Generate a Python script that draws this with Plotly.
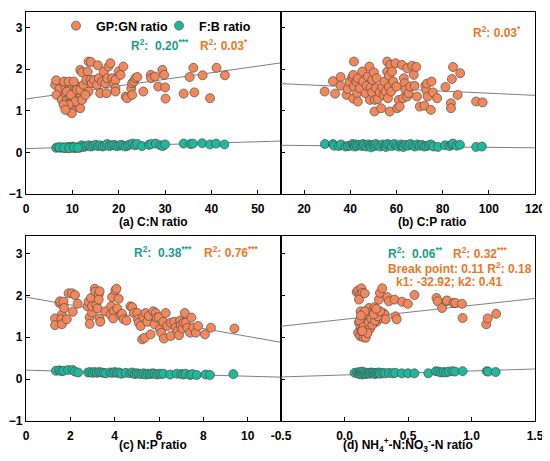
import plotly.graph_objects as go

# ---------------- data ----------------
# (a) C:N ratio
cn_gp_x = [6.3, 6.5, 7.2, 6.6, 7.7, 8.5, 8.5, 8.8, 8.8, 9.2, 9.4, 9.5, 9.5, 9.9, 9.9, 10.1, 10.3, 10.6, 10.8, 11.0,
           11.1, 11.3, 11.6, 11.7, 8.2, 9.2, 10.3, 8.8, 9.7, 10.6, 9.2, 9.9, 8.1, 8.5, 11.0, 11.7, 12.1,
           11.7, 12.1, 13.5, 14.0, 13.3, 12.4, 13.0, 13.9, 14.2, 13.5, 12.8, 14.7, 15.3, 15.7, 16.0, 15.5, 16.4,
           16.8, 17.1, 17.5, 17.8, 18.2, 18.6, 18.9, 19.3, 19.3, 19.3, 17.4, 20.0, 20.4, 21.0, 21.5, 21.8, 22.7,
           22.9, 23.3, 23.6, 24.0, 22.9, 25.3, 26.9, 27.0, 27.8, 28.5, 29.4, 29.8, 30.0, 30.1, 34.0, 35.3, 36.1,
           36.3, 38.1, 39.7, 41.1, 42.9]
cn_gp_y = [1.62, 1.73, 1.52, 1.38, 1.26, 1.42, 1.58, 1.26, 1.10, 1.50, 1.34, 1.18, 0.98, 1.54, 1.42, 1.26, 1.06, 1.50, 1.34, 1.18,
           1.58, 1.26, 1.42, 1.06, 1.70, 1.70, 1.70, 1.46, 1.38, 1.22, 1.14, 0.94, 1.14, 1.02, 1.50, 1.50, 1.26,
           1.98, 1.92, 2.18, 2.17, 1.94, 1.62, 1.74, 1.74, 1.66, 1.46, 1.38, 1.74, 1.62, 1.78, 1.42, 2.09, 1.70,
           1.94, 1.66, 1.78, 2.06, 2.14, 1.78, 1.66, 1.74, 1.54, 1.46, 1.42, 1.94, 1.86, 2.06, 1.34, 1.30, 1.54,
           1.66, 1.70, 1.78, 1.81, 1.38, 1.46, 1.86, 1.78, 1.82, 1.58, 1.98, 1.86, 1.56, 1.29, 1.41, 1.81, 2.03,
           1.44, 1.85, 1.30, 2.03, 1.85]
cn_fb_x = [6.5, 7, 7.5, 8, 8.5, 9, 9, 9.5, 10, 10, 10.5, 11, 11.5, 12, 12, 12.5, 13, 13.5, 14, 14.5,
           15, 15.5, 16, 16.5, 17, 17.5, 18, 18.5, 19, 19.5, 20, 20.5, 21, 21.5, 22, 22.5, 23, 23.5, 24, 25,
           26.5, 27, 28, 29, 29.5, 30, 34, 35.5, 36, 38, 39.7, 41, 42.8, 7.2, 8.2, 9.3, 10.3, 11.2]
cn_fb_y = [0.11, 0.12, 0.11, 0.12, 0.10, 0.12, 0.13, 0.11, 0.12, 0.14, 0.10, 0.12, 0.11, 0.14, 0.17, 0.13, 0.15, 0.17, 0.14, 0.16,
           0.18, 0.15, 0.17, 0.14, 0.16, 0.20, 0.15, 0.17, 0.18, 0.15, 0.16, 0.18, 0.16, 0.14, 0.17, 0.19, 0.21, 0.17, 0.20, 0.15,
           0.18, 0.20, 0.21, 0.17, 0.15, 0.19, 0.21, 0.20, 0.21, 0.22, 0.19, 0.21, 0.19, 0.12, 0.11, 0.10, 0.12, 0.11]

# (b) C:P ratio
cp_gp_x = [28.9, 32.5, 33.4, 35.8, 35.8, 38.4, 38.9, 39.7, 40.9, 41.6, 41.3, 41.6, 41.3, 42.7, 43.0, 43.3, 43.3, 44.2,
           45.2, 45.6, 46.6, 47.1, 47.6, 48.3, 48.5, 48.8, 49.5, 49.5, 50.2, 50.5, 50.6, 51.1, 51.4, 51.9, 52.8,
           53.4, 53.8, 54.5, 54.8, 55.3, 56.0, 56.0, 56.3, 56.7, 56.7, 57.1, 57.4, 57.7, 58.1, 58.6, 59.6, 60.0,
           60.3, 61.0, 61.4, 62.4, 62.9, 63.2, 63.5, 63.9, 64.6, 64.6, 65.3, 66.0, 66.8, 67.5, 67.8, 68.6, 68.9,
           70.1, 72.1, 72.5, 72.9, 73.2, 73.5, 74.9, 75.2, 75.8, 77.6, 81.2, 83.6, 83.6, 84.0, 84.5, 86.5, 87.6,
           94.5, 97.3]
cp_gp_y = [1.46, 1.71, 1.41, 1.81, 1.60, 1.38, 1.52, 1.70, 1.81, 2.18, 1.86, 1.58, 1.29, 1.70, 1.42, 1.78, 1.22, 1.54,
           1.94, 1.70, 1.42, 1.60, 1.82, 2.06, 1.26, 1.56, 1.74, 1.44, 1.92, 0.98, 1.26, 1.54, 1.78, 1.28, 1.44,
           1.06, 1.57, 1.38, 1.70, 1.46, 2.18, 1.94, 1.30, 1.84, 1.57, 0.98, 2.10, 1.46, 1.94, 1.70, 2.14, 1.58,
           1.06, 1.26, 1.10, 2.10, 1.30, 1.78, 1.66, 1.50, 2.02, 1.34, 1.42, 1.58, 2.08, 1.86, 1.60, 2.05, 1.34,
           1.10, 1.12, 1.60, 1.49, 1.65, 1.34, 1.02, 1.70, 1.44, 1.30, 1.57, 1.18, 1.06, 1.76, 2.05, 1.38, 1.90,
           1.22, 1.20]
cp_fb_x = [29, 32.5, 33, 35, 36, 38, 39, 40, 41, 41.5, 42, 42.5, 43, 44, 45, 45.5, 46, 47, 48, 48.5,
           49, 50, 50.5, 51, 52, 53, 54, 55, 55.5, 56, 57, 58, 59, 60, 61, 62, 62.5, 63, 64, 65,
           66, 67, 68, 69, 70, 71, 72, 73, 74, 75, 76, 78, 81, 83, 84, 84.5, 86, 87.5, 94.5, 97]
cp_fb_y = [0.20, 0.20, 0.16, 0.15, 0.19, 0.14, 0.15, 0.16, 0.20, 0.17, 0.14, 0.19, 0.16, 0.18, 0.15, 0.20, 0.17, 0.14, 0.19, 0.16,
           0.12, 0.18, 0.15, 0.20, 0.17, 0.14, 0.19, 0.16, 0.13, 0.20, 0.18, 0.15, 0.20, 0.17, 0.14, 0.19, 0.15, 0.13, 0.18, 0.16,
           0.20, 0.17, 0.14, 0.19, 0.16, 0.18, 0.14, 0.15, 0.17, 0.19, 0.14, 0.13, 0.17, 0.15, 0.19, 0.21, 0.16, 0.18, 0.13, 0.14]

# (c) N:P ratio
np_gp_x = [1.31, 1.31, 1.51, 1.54, 1.62, 1.59, 1.62, 1.69, 1.72, 1.84, 1.92, 2.07, 2.11, 2.21, 2.33, 2.78, 2.82, 2.87,
           2.87, 2.93, 2.98, 2.98, 3.10, 3.13, 3.17, 3.23, 3.28, 3.28, 3.32, 3.32, 3.35, 3.58, 3.81, 3.84, 3.88,
           3.96, 4.03, 4.08, 4.11, 3.93, 4.18, 4.26, 4.33, 4.41, 4.53, 4.71, 4.79, 4.86, 5.02, 5.05, 5.09, 5.17,
           5.29, 5.24, 5.35, 5.39, 5.47, 5.54, 5.62, 5.74, 5.85, 5.80, 5.89, 5.99, 6.04, 6.10, 6.19, 6.22, 6.30,
           6.37, 6.53, 6.53, 6.68, 6.75, 6.83, 6.90, 6.95, 6.98, 7.05, 7.10, 7.16, 7.21, 7.28, 7.40, 7.46, 7.55,
           7.66, 7.76, 8.07, 8.34, 9.40]
np_gp_y = [1.45, 1.29, 1.82, 1.86, 1.54, 1.43, 1.31, 1.85, 1.70, 1.43, 2.05, 2.05, 1.61, 2.01, 1.80, 1.74, 1.85, 1.48,
           1.32, 1.94, 1.59, 1.74, 2.16, 2.09, 1.77, 1.69, 2.02, 1.90, 2.10, 1.45, 1.37, 1.62, 1.54, 1.74, 1.96,
           1.62, 2.12, 2.16, 1.69, 1.45, 1.92, 1.53, 1.56, 1.43, 1.40, 1.74, 1.72, 1.58, 1.58, 1.43, 1.35, 1.27,
           1.48, 0.95, 0.99, 1.58, 1.37, 1.51, 1.07, 1.62, 1.58, 1.31, 1.47, 1.48, 1.19, 1.11, 1.37, 0.97, 1.58,
           1.27, 1.35, 1.03, 1.37, 1.23, 1.15, 1.05, 1.40, 1.29, 1.21, 1.35, 1.58, 1.35, 1.23, 1.11, 1.47, 1.23,
           1.11, 1.27, 1.07, 1.23, 1.21]
np_fb_x = [1.35, 1.5, 1.6, 1.7, 1.9, 2.1, 2.2, 2.35, 2.8, 2.9, 3.0, 3.1, 3.2, 3.3, 3.4, 3.5, 3.6, 3.8, 3.9, 4.0,
           4.1, 4.2, 4.3, 4.5, 4.7, 4.8, 4.9, 5.0, 5.1, 5.2, 5.3, 5.4, 5.5, 5.6, 5.7, 5.8, 5.9, 6.0, 6.1, 6.2,
           6.5, 6.8, 7.0, 7.1, 7.2, 7.4, 7.5, 7.7, 8.1, 8.3, 9.35]
np_fb_y = [0.20, 0.21, 0.19, 0.20, 0.22, 0.22, 0.18, 0.16, 0.16, 0.17, 0.15, 0.17, 0.15, 0.17, 0.16, 0.15, 0.14, 0.16, 0.15, 0.17,
           0.15, 0.16, 0.13, 0.15, 0.14, 0.16, 0.12, 0.14, 0.13, 0.12, 0.14, 0.11, 0.13, 0.12, 0.14, 0.13, 0.11, 0.13, 0.12, 0.13,
           0.11, 0.13, 0.12, 0.11, 0.13, 0.10, 0.12, 0.10, 0.11, 0.10, 0.12]

# (d) NH4+-N:NO3--N ratio
nn_gp_x = [0.096, 0.107, 0.122, 0.133, 0.141, 0.114, 0.159, 0.127, 0.141, 0.154, 0.114, 0.127, 0.107, 0.122, 0.148,
           0.167, 0.133, 0.154, 0.174, 0.185, 0.193, 0.206, 0.219, 0.232, 0.237, 0.245, 0.253, 0.258, 0.271, 0.279,
           0.284, 0.297, 0.305, 0.316, 0.324, 0.337, 0.350, 0.394, 0.402, 0.411, 0.454, 0.499, 0.551, 0.724, 0.734,
           0.768, 0.801, 0.807, 0.859, 0.873, 0.925, 0.930, 1.116, 1.127, 1.194,
           0.12, 0.15, 0.17, 0.19, 0.20, 0.22, 0.21, 0.24, 0.26, 0.18, 0.14, 0.23, 0.28, 0.25, 0.16, 0.13]
nn_gp_y = [2.08, 2.12, 2.02, 2.17, 2.06, 1.90, 2.05, 1.62, 1.50, 1.45, 1.35, 1.23, 1.11, 1.03, 1.00,
           0.99, 1.15, 1.31, 1.39, 1.58, 1.70, 1.50, 1.62, 1.45, 1.72, 1.54, 1.37, 1.62, 1.90, 2.06,
           1.46, 2.17, 1.58, 1.54, 1.43, 1.96, 1.86, 1.90, 1.50, 1.43, 1.85, 1.80, 2.01, 1.94, 1.86,
           1.70, 1.86, 1.88, 1.82, 1.82, 1.80, 1.46, 1.31, 1.45, 1.56,
           1.40, 1.25, 1.55, 1.35, 1.20, 1.30, 1.45, 1.40, 1.50, 1.10, 1.15, 1.55, 1.62, 1.68, 1.62, 1.52]
nn_fb_x = [0.08, 0.10, 0.11, 0.12, 0.12, 0.13, 0.14, 0.14, 0.15, 0.16, 0.17, 0.18, 0.19, 0.20, 0.21, 0.22, 0.23, 0.24,
           0.25, 0.26, 0.27, 0.28, 0.30, 0.32, 0.35, 0.38, 0.40, 0.45, 0.50, 0.55, 0.66, 0.72, 0.74, 0.76, 0.78,
           0.80, 0.82, 0.85, 0.87, 0.93, 1.12, 1.13, 1.19]
nn_fb_y = [0.15, 0.16, 0.13, 0.17, 0.12, 0.15, 0.18, 0.11, 0.14, 0.16, 0.12, 0.14, 0.15, 0.13, 0.16, 0.14, 0.15, 0.12,
           0.15, 0.14, 0.16, 0.13, 0.15, 0.14, 0.15, 0.14, 0.15, 0.14, 0.14, 0.14, 0.14, 0.19, 0.18, 0.16, 0.17,
           0.16, 0.18, 0.19, 0.18, 0.19, 0.19, 0.18, 0.17]

# fitted lines: intercept, slope per panel
gp_fit = [(1.28, 0.0158), (1.675, -0.00255), (1.96, -0.094), (1.43, 0.332)]
fb_fit = [(0.09, 0.0033), (0.175, -0.00055), (0.215, -0.0145), (0.10, 0.095)]

x_ranges = [[0, 55], [10, 120], [0, 11.5], [-0.5, 1.5]]
x_ticks = [[0, 10, 20, 30, 40, 50], [20, 40, 60, 80, 100, 120], [0, 2, 4, 6, 8, 10],
           [-0.5, 0.0, 0.5, 1.0, 1.5]]
x_titles = ["(a) C:N ratio", "(b) C:P ratio", "(c) N:P ratio",
            "(d) NH<sub>4</sub><sup>+</sup>-N:NO<sub>3</sub><sup>-</sup>-N ratio"]

panels = [(cn_gp_x, cn_gp_y, cn_fb_x, cn_fb_y), (cp_gp_x, cp_gp_y, cp_fb_x, cp_fb_y),
          (np_gp_x, np_gp_y, np_fb_x, np_fb_y), (nn_gp_x, nn_gp_y, nn_fb_x, nn_fb_y)]

ORANGE = "#F4875A"
TEAL = "#1FB89B"
TXT_OR = "#E9782A"
TXT_TE = "#1A9A8E"

# the page body adds 8px around the figure, so the figure is 8px smaller
OFF = 8
W, H = 550 - OFF, 461 - OFF
# plot area in page pixels
L, R, T, B = 26, 535, 12, 421


def px(x):
    return (x - L) / (R - L)


def py(y):
    return (B - y) / (B - T)


# pixel boxes of the four panels
cols = [(26, 281), (281, 535)]
rows = [(12, 194), (236, 421)]

fig = go.Figure()
bold = dict(family="Liberation Sans, Arial", size=12, color="black", weight="bold")

for i, (gx, gy, fx, fy) in enumerate(panels):
    r, c = divmod(i, 2)
    n = "" if i == 0 else str(i + 1)
    xa, ya = "x" + n, "y" + n
    x0, x1 = x_ranges[i]
    for (b0, b1) in (gp_fit[i], fb_fit[i]):
        fig.add_trace(go.Scatter(x=[x0, x1], y=[b0 + b1 * x0, b0 + b1 * x1], mode="lines",
                                 line=dict(color="#7f7f7f", width=1), showlegend=False,
                                 hoverinfo="skip", xaxis=xa, yaxis=ya))
    fig.add_trace(go.Scatter(x=gx, y=gy, mode="markers", name="GP:GN ratio", showlegend=(i == 0),
                             marker=dict(color=ORANGE, size=9, line=dict(color="#4d4d4d", width=0.7)),
                             xaxis=xa, yaxis=ya))
    fig.add_trace(go.Scatter(x=fx, y=fy, mode="markers", name="F:B ratio", showlegend=(i == 0),
                             marker=dict(color=TEAL, size=9, line=dict(color="#4d4d4d", width=0.7)),
                             xaxis=xa, yaxis=ya))

    axis_common = dict(showline=True, linecolor="black", linewidth=1.2, mirror=True,
                       ticks="inside", ticklen=4, tickwidth=1.2, tickcolor="black",
                       showgrid=False, zeroline=False, tickfont=bold, automargin=False)
    fig.layout["xaxis" + n] = dict(axis_common, range=[x0, x1], tickvals=x_ticks[i],
                                   ticktext=[("%.1f" % v) if i == 3 else str(v) for v in x_ticks[i]],
                                   domain=[px(cols[c][0]), px(cols[c][1])],
                                   anchor=ya, ticklabelstandoff=3)
    fig.layout["yaxis" + n] = dict(axis_common, range=[-1, 3.37 if r == 0 else 3.42],
                                   tickvals=[-1, 0, 1, 2, 3], showticklabels=(c == 0),
                                   domain=[py(rows[r][1]), py(rows[r][0])], anchor=xa)

# axis titles
title_x = [153, 432, 153, 408]
title_y = [222, 222, 445, 445]
for i in range(4):
    fig.add_annotation(x=px(title_x[i]), y=py(title_y[i]), xref="paper", yref="paper",
                       text=x_titles[i], showarrow=False, font=bold, xanchor="center", yanchor="middle")

# R2 labels: (text, colour, left px, centre y px)
notes = [
    ("R<sup>2</sup>:\u00a0 0.20<sup>***</sup>", TXT_TE, 129, 45),
    ("R<sup>2</sup>: 0.03<sup>*</sup>", TXT_OR, 198, 45),
    ("R<sup>2</sup>: 0.03<sup>*</sup>", TXT_OR, 471, 32),
    ("R<sup>2</sup>:\u00a0 0.38<sup>***</sup>", TXT_TE, 132, 252),
    ("R<sup>2</sup>: 0.76<sup>***</sup>", TXT_OR, 202, 252),
    ("R<sup>2</sup>:\u00a0 0.06<sup>**</sup>", TXT_TE, 386, 253),
    ("R<sup>2</sup>: 0.32<sup>***</sup>", TXT_OR, 451, 253),
    ("Break point: 0.11 R<sup>2</sup>: 0.18", TXT_OR, 386, 268),
    ("k1: -32.92; k2: 0.41", TXT_OR, 394, 282),
]
for txt, col, x_, y_ in notes:
    fig.add_annotation(x=px(x_), y=py(y_), xref="paper", yref="paper", text=txt,
                       showarrow=False, xanchor="left", yanchor="middle",
                       font=dict(family="Liberation Sans, Arial", size=12, color=col, weight="bold"))

fig.update_layout(
    width=W, height=H,
    margin=dict(l=L - OFF, r=W - (R - OFF), t=T - OFF, b=H - (B - OFF), autoexpand=False),
    paper_bgcolor="white", plot_bgcolor="white",
    legend=dict(orientation="h", x=px(56), y=py(11), xanchor="left", yanchor="top",
                font=dict(family="Liberation Sans, Arial", size=12.5, color="black", weight="bold"),
                bgcolor="rgba(0,0,0,0)", entrywidth=58, entrywidthmode="pixels"),
)

fig.write_html("out.html")
